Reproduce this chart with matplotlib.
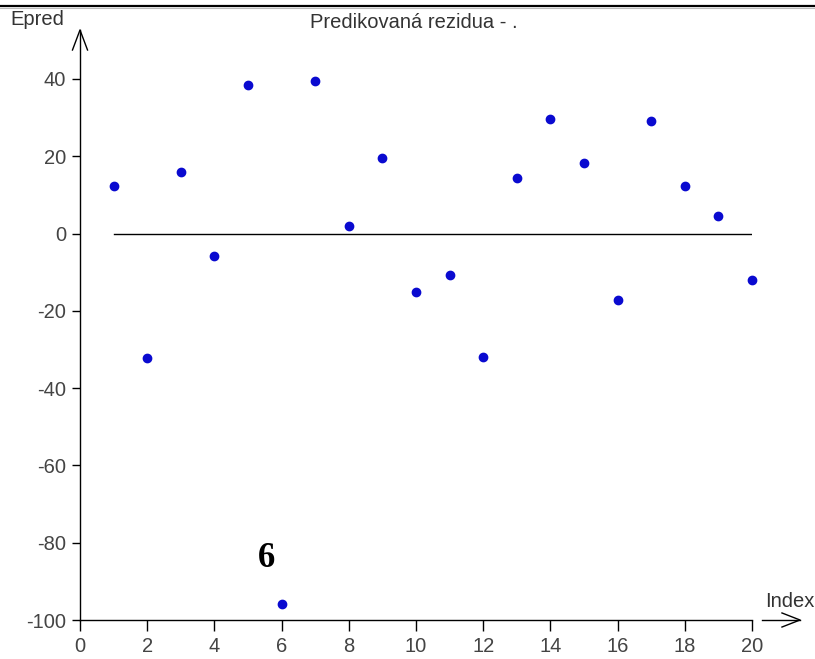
import matplotlib.pyplot as plt
from matplotlib.lines import Line2D

# residuals
index = list(range(1, 21))
epred = [12.3, -32.2, 15.9, -5.8, 38.4, -95.8, 39.5, 2.0, 19.6, -15.1,
         -10.7, -31.9, 14.4, 29.6, 18.3, -17.2, 29.1, 12.3, 4.6, -12.0]
xticks = list(range(0, 21, 2))
yticks = [-100, -80, -60, -40, -20, 0, 20, 40]
title = "Predikovaná rezidua - ."
outlier_label = "6"

plt.rcParams["font.family"] = ["Liberation Sans", "DejaVu Sans"]
plt.rcParams["axes.unicode_minus"] = False

fig = plt.figure(figsize=(8.15, 6.59), dpi=100)
ax = fig.add_axes([80 / 815, 39 / 659, 672 / 815, 541 / 659])

ax.plot(index, epred, "o", color="#0a0ad0", markersize=6, zorder=3, clip_on=False)
ax.plot([index[0], index[-1]], [0, 0], color="black", lw=1)

ax.set_xlim(0, 20)
ax.set_ylim(-100, 40)
ax.set_xticks(xticks)
ax.set_yticks(yticks)
ax.tick_params(axis="x", length=8, width=1, pad=4, labelsize=14.5, labelcolor="#444444")
ax.tick_params(axis="y", length=6, width=1, pad=4, labelsize=14.5, labelcolor="#444444")

for s in ["top", "right"]:
    ax.spines[s].set_visible(False)
ax.spines["left"].set_visible(False)
ax.spines["bottom"].set_linewidth(1)

tr = ax.transAxes
# y axis with open arrow head
ax.add_line(Line2D([0, 0], [0, 1.0906], transform=tr, color="black", lw=1, clip_on=False))
ax.add_line(Line2D([-0.0112, 0, 0.0112], [1.0536, 1.0906, 1.0536], transform=tr,
                   color="black", lw=1, clip_on=False))
# x arrow after the axis end
ax.add_line(Line2D([1.0149, 1.0714], [0, 0], transform=tr, color="black", lw=1, clip_on=False))
ax.add_line(Line2D([1.0446, 1.0714, 1.0446], [0.013, 0, -0.013], transform=tr,
                   color="black", lw=1, clip_on=False))

ax.text(-0.104, 1.1, "Epred", transform=tr, fontsize=14.5, color="#333333",
        ha="left", va="baseline")
ax.text(1.02, 0.024, "Index", transform=tr, fontsize=14.5, color="#333333",
        ha="left", va="baseline")
fig.text(414 / 815, 1 - 28 / 659, title, fontsize=14.5, color="#333333",
         ha="center", va="baseline")

ax.text(5.54, -84, outlier_label, fontsize=25, fontweight="bold",
        family="Liberation Serif", ha="center", va="center")

# double rule along the top edge
fig.add_artist(Line2D([0, 1], [1 - 6 / 659, 1 - 6 / 659], transform=fig.transFigure,
                      color="black", lw=1.6))
fig.add_artist(Line2D([0, 1], [1 - 8 / 659, 1 - 8 / 659], transform=fig.transFigure,
                      color="#bbbbbb", lw=0.8))

fig.savefig("out.png", dpi=100)
